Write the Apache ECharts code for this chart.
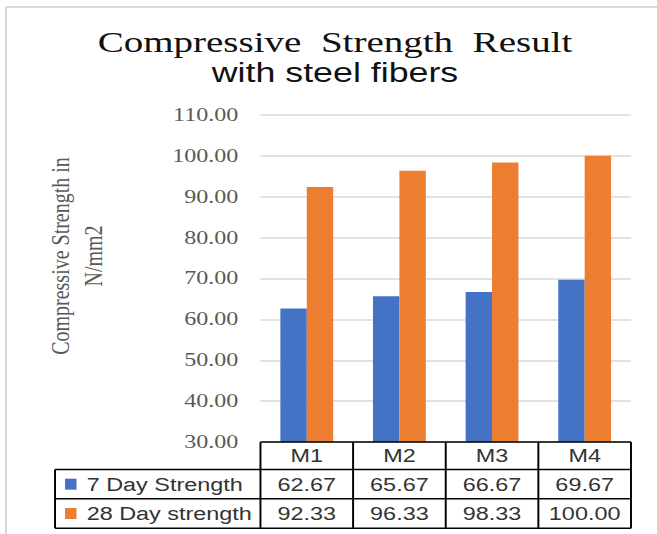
<!DOCTYPE html>
<html>
<head>
<meta charset="utf-8">
<script src="https://cdn.jsdelivr.net/npm/echarts@6/dist/echarts.min.js"></script>
<style>
  html, body { margin: 0; padding: 0; background: #fff; overflow: hidden; }
  #wrap { width: 657px; height: 534px; overflow: hidden; position: relative; }
  /* the chart is laid out narrower and widened to the page width */
  #chart { width: 505px; height: 534px; transform: scaleX(1.301); transform-origin: 0 0; }
</style>
</head>
<body>
<div id="wrap"><div id="chart"></div></div>
<script>
// ---- data ----
const categories = ['M1', 'M2', 'M3', 'M4'];
const seriesNames = ['7 Day Strength', '28 Day strength'];
const day7Strength = [62.67, 65.67, 66.67, 69.67];
const day28Strength = [92.33, 96.33, 98.33, 100.00];
const yMin = 30;
const yMax = 110;
const yStep = 10;

// ---- style ----
const seriesColors = ['#4472C4', '#ED7D31'];
const titleLine1 = 'Compressive\u00a0 Strength\u00a0 Result';
const titleLine2 = 'with steel fibers';
const yTitle = 'Compressive Strength in\nN/mm2';

const chart = echarts.init(document.getElementById('chart'), null, { renderer: 'svg' });

chart.setOption({
  animation: false,
  backgroundColor: '#fff',
  grid: { left: 200.2, right: 20, top: 114.8, bottom: 91.9 },
  xAxis: {
    type: 'category',
    data: categories,
    axisLine: { show: false },
    axisTick: { show: false },
    axisLabel: { show: false },
    splitLine: { show: false }
  },
  yAxis: {
    type: 'value',
    min: yMin,
    max: yMax,
    interval: yStep,
    axisLine: { show: false },
    axisTick: { show: false },
    axisLabel: {
      formatter: v => v.toFixed(2),
      color: '#595959',
      fontFamily: 'Liberation Serif',
      fontSize: 18.5,
      margin: 17
    },
    splitLine: { lineStyle: { color: '#d9d9d9', width: 1.5 } }
  },
  series: [
    {
      type: 'bar', name: seriesNames[0], data: day7Strength,
      itemStyle: { color: seriesColors[0] },
      barGap: '0%', barCategoryGap: '43%'
    },
    {
      type: 'bar', name: seriesNames[1], data: day28Strength,
      itemStyle: { color: seriesColors[1] },
      barGap: '0%', barCategoryGap: '43%'
    }
  ]
});

// ---- data table under the plot, aligned to the category bands ----
const c0 = chart.convertToPixel({ xAxisIndex: 0 }, 0);
const c1 = chart.convertToPixel({ xAxisIndex: 0 }, 1);
const band = c1 - c0;
const colLeft = c0 - band / 2;
const colEdges = categories.map((_, i) => colLeft + i * band).concat([colLeft + categories.length * band]);
const tableTop = chart.convertToPixel({ yAxisIndex: 0 }, yMin);
const headH = 27.4;
const rowH = 29.35;
const rowEdges = [tableTop, tableTop + headH, tableTop + headH + rowH, tableTop + headH + 2 * rowH];
const tableLeft = 42.3;
const tableRight = colEdges[colEdges.length - 1];

const lineStyle = { stroke: '#000', lineWidth: 1.5 };
const g = [];

function hLine(x1, x2, y) {
  g.push({ type: 'line', shape: { x1, y1: y, x2, y2: y }, style: lineStyle, z: 10 });
}
function vLine(x, y1, y2) {
  g.push({ type: 'line', shape: { x1: x, y1, x2: x, y2 }, style: lineStyle, z: 10 });
}
function label(text, x, y, opts) {
  g.push({
    type: 'text', z: 11,
    style: Object.assign({
      text, x, y,
      fontSize: 18, fontFamily: 'Liberation Sans', fill: '#333',
      align: 'center', verticalAlign: 'middle',
      textAlign: 'center', textVerticalAlign: 'middle'
    }, opts || {})
  });
}

// chart frame
g.push({ type: 'line', shape: { x1: 4.6, y1: 7, x2: 520, y2: 7 }, style: { stroke: '#d9d9d9', lineWidth: 2 } });
g.push({ type: 'line', shape: { x1: 4.6, y1: 7, x2: 4.6, y2: 540 }, style: { stroke: '#d9d9d9', lineWidth: 1.6 } });

// titles
label(titleLine1, 257.5, 41.7, { fontSize: 30, fontFamily: 'Liberation Serif', fill: '#111' });
label(titleLine2, 257.5, 73, { fontSize: 27.5, fontFamily: 'Liberation Sans', fill: '#111' });

// value axis title
g.push({
  type: 'text', z: 11,
  x: 58.8, y: 256, rotation: Math.PI / 2,
  style: {
    text: yTitle, x: 0, y: 0,
    fontSize: 20, fontFamily: 'Liberation Serif', fill: '#595959', lineHeight: 25,
    align: 'center', verticalAlign: 'middle',
    textAlign: 'center', textVerticalAlign: 'middle'
  }
});

// grid lines of the table
hLine(colEdges[0], tableRight, rowEdges[0]);
for (let r = 1; r < rowEdges.length; r++) hLine(tableLeft, tableRight, rowEdges[r]);
vLine(tableLeft, rowEdges[1], rowEdges[3]);
colEdges.forEach(x => vLine(x, rowEdges[0], rowEdges[3]));

// header row
categories.forEach((c, i) => label(c, colLeft + (i + 0.5) * band, (rowEdges[0] + rowEdges[1]) / 2));

// series rows
[day7Strength, day28Strength].forEach((vals, s) => {
  const yMid = (rowEdges[s + 1] + rowEdges[s + 2]) / 2;
  g.push({
    type: 'rect', z: 11,
    shape: { x: 50, y: yMid - 5.5, width: 8.8, height: 11 },
    style: { fill: seriesColors[s] }
  });
  label(seriesNames[s], 66.6, yMid, { align: 'left', textAlign: 'left' });
  vals.forEach((v, i) => label(v.toFixed(2), colLeft + (i + 0.5) * band, yMid));
});

chart.setOption({ graphic: g });
</script>
</body>
</html>
